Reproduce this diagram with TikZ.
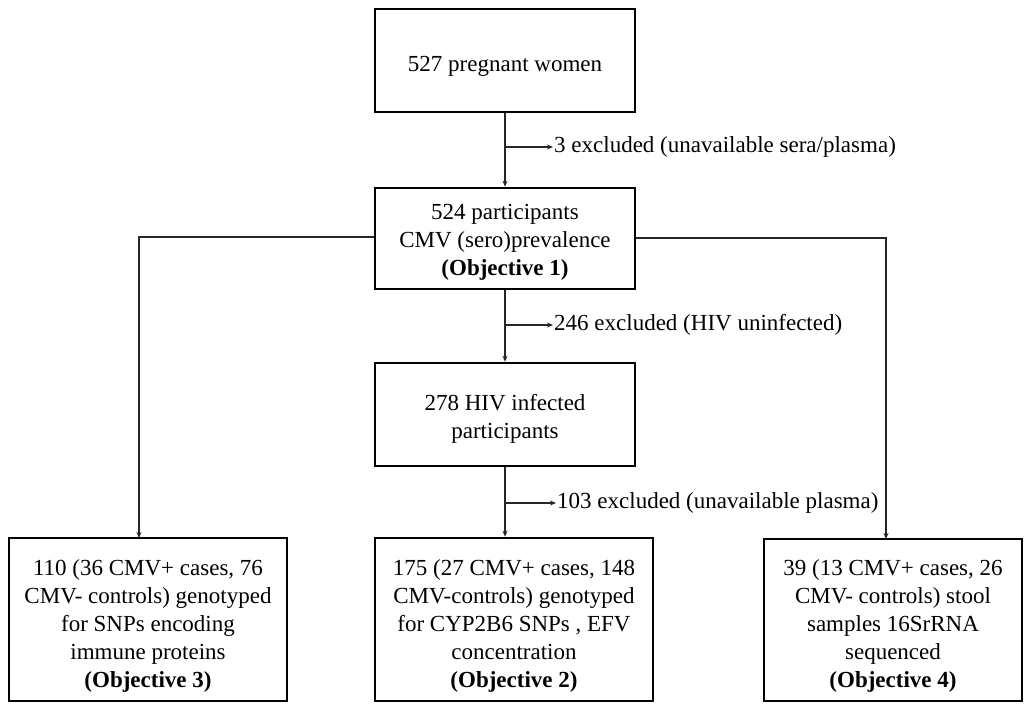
\documentclass[tikz,border=0pt]{standalone}
\usepackage{fontspec}
\setmainfont{Liberation Serif}
\usetikzlibrary{arrows.meta,calc}
\newcommand\tdn[1]{\rule{0pt}{#1}}
\begin{document}
\begin{tikzpicture}[x=1pt,y=-1pt,
  box/.style={draw=black,line width=2.6pt,fill=white,inner sep=0pt,align=center,
    font=\fontsize{23}{28}\selectfont},
  conn/.style={line width=1.4pt,draw=black!85},
  arr/.style={conn,-{Stealth[length=6pt,width=5pt]}},
  excl/.style={anchor=west,inner sep=1pt,font=\fontsize{23}{28}\selectfont}]
\useasboundingbox (0,0) rectangle (1027,704);
% boxes
\node[box,minimum width=260pt,minimum height=103pt] (b1) at (505,60.5) {\tdn{26pt}527 pregnant women};
\node[box,minimum width=260pt,minimum height=101pt] (b2) at (505,238.5)
  {\tdn{22pt}524 participants\\CMV (sero)prevalence\\\textbf{(Objective 1)}};
\node[box,minimum width=260pt,minimum height=103pt] (b3) at (505,414.5)
  {\tdn{24pt}278 HIV infected\\participants};
\node[box,minimum width=278pt,minimum height=163pt] (L) at (148,619.5)
  {\tdn{28pt}110 (36 CMV+ cases, 76\\CMV- controls) genotyped\\for SNPs encoding\\immune proteins\\\textbf{(Objective 3)}};
\node[box,minimum width=278pt,minimum height=163pt] (M) at (514,619.5)
  {\tdn{28pt}175 (27 CMV+ cases, 148\\CMV-controls) genotyped\\for CYP2B6 SNPs , EFV\\concentration\\\textbf{(Objective 2)}};
\node[box,minimum width=258pt,minimum height=162pt] (R) at (893,620)
  {\tdn{28pt}39 (13 CMV+ cases, 26\\CMV- controls) stool\\samples 16SrRNA\\sequenced\\\textbf{(Objective 4)}};
% exclusion labels
\node[excl] (x1) at (553,147) {3 excluded (unavailable sera/plasma)};
\node[excl] (x2) at (553,325) {246 excluded (HIV uninfected)};
\node[excl] (x3) at (556,503) {103 excluded (unavailable plasma)};
\coordinate (lt) at (139,538);
\coordinate (rt) at (886,539);
% connectors
\draw[arr] (b1.south) -- (b2.north);
\draw[arr] (b1.south |- x1.west) -- (x1.west);
\draw[arr] (b2.south) -- (b3.north);
\draw[arr] (b2.south |- x2.west) -- (x2.west);
\draw[arr] (b3.south) -- (b3.south |- M.north);
\draw[arr] (b3.south |- x3.west) -- (x3.west);
\draw[arr] ($(b2.west)+(0,-1.5)$) -| (lt);
\draw[arr] ($(b2.east)+(0,-0.5)$) -| (rt);
\end{tikzpicture}
\end{document}
